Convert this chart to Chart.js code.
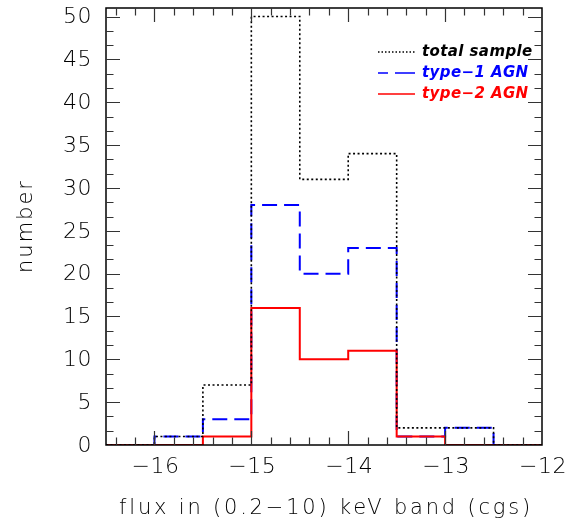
<!DOCTYPE html>
<html>
<head>
<meta charset="utf-8">
<script src="https://cdn.jsdelivr.net/npm/chart.js@4"></script>
<style>
  html, body { margin: 0; padding: 0; background: #fff; }
  #wrap { width: 568px; height: 525px; }
</style>
</head>
<body>
<div id="wrap"><canvas id="histo"></canvas></div>
<script>
// flux bins (log cgs), counts per bin
const binEdges = [-16.5, -16, -15.5, -15, -14.5, -14, -13.5, -13, -12.5, -12];
const totalCounts = [0, 1, 7, 50, 31, 34, 2, 2, 0];
const type1Counts = [0, 1, 3, 28, 20, 23, 1, 2, 0];
const type2Counts = [0, 0, 1, 16, 10, 11, 1, 0, 0];
const xTickValues = [-16, -15, -14, -13, -12];
const yTickValues = [0, 5, 10, 15, 20, 25, 30, 35, 40, 45, 50];
const seriesNames = ['total sample', 'type-1 AGN', 'type-2 AGN'];

const labelFont = '"DejaVu Sans", sans-serif';

// turn counts into step points: one point per left edge, plus the closing edge
function steps(counts) {
  const pts = counts.map((c, i) => ({ x: binEdges[i], y: c }));
  pts.push({ x: binEdges[binEdges.length - 1], y: counts[counts.length - 1] });
  return pts;
}

const styles = [
  { color: '#000000', width: 1.6, dash: [2, 2.5] },
  { color: '#0000ff', width: 2, dash: [15, 7] },
  { color: '#ff0000', width: 2, dash: [] }
];

const frame = {
  id: 'frame',
  afterDraw(chart) {
    const { ctx, chartArea: a, scales: { x, y } } = chart;
    ctx.save();
    ctx.strokeStyle = '#000';
    ctx.lineWidth = 1.5;
    ctx.setLineDash([]);
    ctx.strokeRect(a.left, a.top, a.right - a.left, a.bottom - a.top);

    // inward ticks, x every 0.2 and y every 5/3
    ctx.beginPath();
    for (let i = 0; i <= 21; i++) {
      const v = -16.4 + i * 0.2;
      const major = Math.abs(v - Math.round(v)) < 1e-6;
      const len = major ? 14 : 7.5;
      const px = Math.round(x.getPixelForValue(v)) + 0.5;
      ctx.moveTo(px, a.bottom); ctx.lineTo(px, a.bottom - len);
      ctx.moveTo(px, a.top); ctx.lineTo(px, a.top + len);
    }
    for (let k = 1; k <= 30; k++) {
      const v = k * 5 / 3;
      const len = k % 3 === 0 ? 14 : 7.5;
      const py = Math.round(y.getPixelForValue(v)) + 0.5;
      ctx.moveTo(a.left, py); ctx.lineTo(a.left + len, py);
      ctx.moveTo(a.right, py); ctx.lineTo(a.right - len, py);
    }
    ctx.lineWidth = 1.2;
    ctx.strokeStyle = '#333';
    ctx.stroke();

    // tick labels
    ctx.fillStyle = '#000';
    ctx.font = '300 22px ' + labelFont;
    ctx.letterSpacing = '0.5px';
    ctx.textBaseline = 'middle';
    ctx.textAlign = 'center';
    xTickValues.forEach(v => {
      ctx.fillText('\u2212' + Math.abs(v), x.getPixelForValue(v) + 1, a.bottom + 22);
    });
    ctx.textAlign = 'right';
    yTickValues.forEach(v => {
      ctx.fillText(String(v), a.left - 14, y.getPixelForValue(v) + 1);
    });

    // axis titles
    ctx.font = '300 21px ' + labelFont;
    ctx.letterSpacing = '2.8px';
    ctx.textAlign = 'center';
    ctx.textBaseline = 'alphabetic';
    ctx.fillText('flux in (0.2\u221210) keV band (cgs)', (a.left + a.right) / 2 + 2, 514);
    ctx.save();
    ctx.translate(32, 226);
    ctx.rotate(-Math.PI / 2);
    ctx.letterSpacing = '2px';
    ctx.font = '300 21px ' + labelFont;
    ctx.fillText('number', 0, 0);
    ctx.restore();

    // legend in the upper right
    ctx.letterSpacing = '0.4px';
    ctx.font = 'italic bold 15px ' + labelFont;
    ctx.textAlign = 'left';
    ctx.textBaseline = 'middle';
    const rows = [52, 73, 94];
    seriesNames.forEach((name, i) => {
      const s = styles[i];
      ctx.beginPath();
      ctx.strokeStyle = s.color;
      ctx.lineWidth = i === 0 ? 1.3 : 1.6;
      ctx.setLineDash(i === 0 ? [1.5, 2] : s.dash.length ? [10, 7, 30, 0] : []);
      ctx.moveTo(378, rows[i]); ctx.lineTo(415, rows[i]);
      ctx.stroke();
      ctx.fillStyle = s.color;
      ctx.fillText(name.replace('-', '\u2212'), 422, rows[i]);
    });
    ctx.restore();
  }
};

const sets = [totalCounts, type1Counts, type2Counts].map((counts, i) => ({
  label: seriesNames[i],
  data: steps(counts),
  stepped: 'before',
  borderColor: styles[i].color,
  borderWidth: styles[i].width,
  borderDash: styles[i].dash,
  pointRadius: 0,
  fill: false,
  order: [0, 2, 1][i]
}));

new Chart(document.getElementById('histo'), {
  type: 'line',
  data: { datasets: sets },
  options: {
    responsive: true,
    maintainAspectRatio: false,
    animation: false,
    layout: { padding: { top: 8, right: 26, left: 0, bottom: 0 } },
    plugins: { legend: { display: false }, tooltip: { enabled: false } },
    scales: {
      x: {
        type: 'linear',
        min: -16.5,
        max: -12,
        grid: { display: false },
        border: { display: false },
        ticks: { display: false },
        afterFit: s => { s.height = 80; }
      },
      y: {
        min: 0,
        max: 51,
        grid: { display: false },
        border: { display: false },
        ticks: { display: false },
        afterFit: s => { s.width = 106; }
      }
    }
  },
  plugins: [frame]
});
</script>
</body>
</html>
